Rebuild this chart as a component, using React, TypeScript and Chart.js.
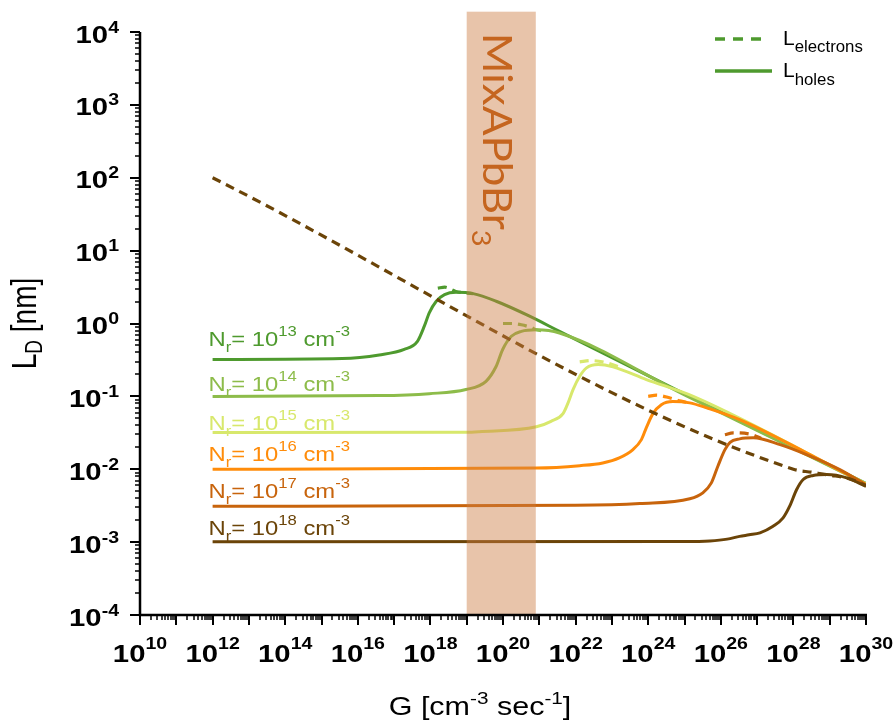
import React, { useEffect, useRef } from 'react';
import { Chart, registerables } from 'chart.js';
Chart.register(...registerables);

// ---------------- data ----------------
const NR_EXPONENTS = ['13', '14', '15', '16', '17', '18'];
const COLORS = ['#4e9a2e', '#8dbc4a', '#d8e86c', '#ff8c0a', '#c8640c', '#6b4408'];

const G_HOLES_13 = [1e12, 3.7e15, 3.9e16, 1.9e17, 4.4e17, 6.8e17, 9.3e17, 1.45e18, 2.45e18, 5.1e18, 1.5e19, 6.5e19, 5.4e20, 3.6e21, 1e25, 1e30];
const L_HOLES_13 = [0.32, 0.33, 0.37, 0.44, 0.57, 0.92, 1.4, 2.02, 2.49, 2.68, 2.57, 2.02, 1.26, 0.78, 0.108, 0.0064];

const G_HOLES_14 = [1e12, 3.9e16, 9.3e17, 9.5e18, 3.4e19, 6.5e19, 9.8e19, 1.7e20, 3.2e20, 8.3e20, 3.6e21, 1e25, 1e30];
const L_HOLES_14 = [0.1, 0.1026, 0.109, 0.124, 0.161, 0.259, 0.44, 0.667, 0.78, 0.82, 0.74, 0.105, 0.0063];

const G_HOLES_15 = [1e12, 9.5e18, 2.2e19, 8.3e20, 2.1e21, 4.5e21, 6.2e21, 8.5e21, 1.3e22, 2.0e22, 4.2e22, 1.07e23, 8.9e23, 1.74e25, 1e30];
const L_HOLES_15 = [0.032, 0.0321, 0.0327, 0.0382, 0.0455, 0.058, 0.0815, 0.124, 0.189, 0.246, 0.273, 0.254, 0.17, 0.1, 0.0063];

const G_HOLES_16 = [1e12, 8.3e20, 1.3e22, 5.6e22, 1.6e23, 3.8e23, 6.5e23, 8.9e23, 1.35e24, 2.3e24, 4.8e24, 1.4e25, 4.1e25, 3.3e26, 2.3e28, 1e30];
const L_HOLES_16 = [0.01, 0.0104, 0.0112, 0.0122, 0.0143, 0.0186, 0.0255, 0.0373, 0.058, 0.077, 0.085, 0.0815, 0.0695, 0.048, 0.0168, 0.0062];

const G_HOLES_17 = [1e12, 1e22, 5.9e23, 1.4e25, 3.2e25, 5.5e25, 8.3e25, 1.3e26, 1.8e26, 3.3e26, 7.8e26, 4.3e27, 2.3e28, 1.9e29, 1e30];
const L_HOLES_17 = [0.0031, 0.0032, 0.00339, 0.00393, 0.00474, 0.0065, 0.011, 0.0186, 0.0234, 0.0261, 0.027, 0.0218, 0.0159, 0.0099, 0.0061];

const G_HOLES_18 = [1e12, 1e25, 5e25, 1.5e26, 3.3e26, 6e26, 1.2e27, 2.75e27, 5.2e27, 7.9e27, 1.23e28, 1.86e28, 3.5e28, 8.3e28, 2.95e29, 1e30];
const L_HOLES_18 = [0.00101, 0.00102, 0.00104, 0.0011, 0.0012, 0.00126, 0.00134, 0.00165, 0.00215, 0.00311, 0.00527, 0.00723, 0.0082, 0.00845, 0.0076, 0.0058];

const G_ELEC_13 = [1.6e18, 2.5e18, 5e18, 1.5e19];
const L_ELEC_13 = [3.05, 3.15, 2.75, 2.57];

const G_ELEC_14 = [1e20, 1.7e20, 3.2e20, 6e20, 8.3e20, 1.5e21];
const L_ELEC_14 = [1.0, 1.0, 0.96, 0.88, 0.82, 0.79];

const G_ELEC_15 = [1.3e22, 2.5e22, 7e22, 1.5e23];
const L_ELEC_15 = [0.297, 0.31, 0.29, 0.255];

const G_ELEC_16 = [1e24, 1.7e24, 4e24, 8e24, 1.4e25];
const L_ELEC_16 = [0.1, 0.104, 0.095, 0.086, 0.0815];

const G_ELEC_17 = [1.3e26, 2.2e26, 7e26, 1.3e27];
const L_ELEC_17 = [0.0297, 0.0316, 0.03, 0.0265];

const G_ELEC_18 = [1e12, 1e28, 3.2e28, 1e29, 3.2e29, 1e30];
const L_ELEC_18 = [100, 0.01, 0.0091, 0.0083, 0.0075, 0.006];

const X_TICK_VALUES = [1e10, 1e12, 1e14, 1e16, 1e18, 1e20, 1e22, 1e24, 1e26, 1e28, 1e30];
const Y_TICK_VALUES = [1e4, 1e3, 1e2, 1e1, 1e0, 1e-1, 1e-2, 1e-3, 1e-4];

const NR_LABEL_G = 1e12;
const NR_LABEL_L = [0.487, 0.1175, 0.0351, 0.0129, 0.00406, 0.00127];

const BAND_G = [1e19, 8e20];
const BAND_L = [1e-4, 1.9e4];

// ---------------- helpers ----------------
const FONT = '"Liberation Sans", Arial, Helvetica, sans-serif';
const SX = 1.22;

type Seg = { t: string; size: number; bold?: boolean; dy?: number; family?: string };

function drawRich(
  ctx: CanvasRenderingContext2D,
  segs: Seg[],
  x: number,
  y: number,
  align: 'left' | 'center' | 'right',
  color: string,
  rot = 0,
  sx = SX,
) {
  ctx.save();
  ctx.fillStyle = color;
  ctx.textBaseline = 'alphabetic';
  ctx.textAlign = 'left';
  const fontOf = (s: Seg) => `${s.bold ? 'bold ' : ''}${s.size}px ${s.family || FONT}`;
  let w = 0;
  const ws: number[] = [];
  for (const s of segs) {
    ctx.font = fontOf(s);
    const m = ctx.measureText(s.t).width;
    ws.push(m);
    w += m;
  }
  ctx.translate(x, y);
  if (rot) {
    ctx.rotate(rot);
    ctx.scale(1, sx);
  } else {
    ctx.scale(sx, 1);
  }
  let cx = align === 'left' ? 0 : align === 'center' ? -w / 2 : -w;
  segs.forEach((s, i) => {
    ctx.font = fontOf(s);
    ctx.fillText(s.t, cx, s.dy || 0);
    cx += ws[i];
  });
  ctx.restore();
}

const expOf = (v: number) => String(Math.round(Math.log10(v)));

const decorPlugin = {
  id: 'decor',
  afterDatasetsDraw(chart: any) {
    const { ctx, scales } = chart;
    const x = scales.x;
    const y = scales.y;
    const x0 = x.getPixelForValue(BAND_G[0]);
    const x1 = x.getPixelForValue(BAND_G[1]);
    const yT = y.getPixelForValue(BAND_L[1]);
    const yB = y.getPixelForValue(BAND_L[0]);
    ctx.save();
    ctx.fillStyle = 'rgba(204,124,66,0.45)';
    ctx.fillRect(x0, yT, x1 - x0, yB - yT);
    ctx.restore();
    // band label, rotated clockwise
    drawRich(
      ctx,
      [
        { t: 'MixAPbBr', size: 44, family: 'Lato, "Open Sans", sans-serif' },
        { t: '3', size: 29, dy: 11, family: 'Lato, "Open Sans", sans-serif' },
      ],
      x0 + 16,
      yT + 21,
      'left',
      '#c5651f',
      Math.PI / 2,
      0.93,
    );
  },
  afterDraw(chart: any) {
    const { ctx, scales, chartArea } = chart;
    const x = scales.x;
    const y = scales.y;
    const { left, right, top, bottom } = chartArea;
    ctx.save();
    ctx.strokeStyle = '#000';
    ctx.lineCap = 'butt';
    // axis lines
    ctx.lineWidth = 2.5;
    ctx.beginPath();
    ctx.moveTo(left, top);
    ctx.lineTo(left, bottom + 1.25);
    ctx.moveTo(left - 1.25, bottom);
    ctx.lineTo(right + 1, bottom);
    ctx.stroke();
    // ticks
    for (let d = -4; d <= 4; d++) {
      for (let k = 1; k <= 9; k++) {
        if (d === 4 && k > 1) break;
        const py = Math.round(y.getPixelForValue(k * Math.pow(10, d)));
        const len = k === 1 ? 10 : 5;
        ctx.lineWidth = k === 1 ? 2 : 1.5;
        ctx.beginPath();
        ctx.moveTo(left, py);
        ctx.lineTo(left - len, py);
        ctx.stroke();
      }
    }
    for (let d = 10; d <= 30; d++) {
      for (let k = 1; k <= 9; k++) {
        if (d === 30 && k > 1) break;
        const px = Math.round(x.getPixelForValue(k * Math.pow(10, d)));
        const len = k === 1 ? 10 : 5;
        ctx.lineWidth = k === 1 ? 2 : 1.5;
        ctx.beginPath();
        ctx.moveTo(px, bottom);
        ctx.lineTo(px, bottom + len);
        ctx.stroke();
      }
    }
    ctx.restore();

    // tick labels
    X_TICK_VALUES.forEach((v) => {
      drawRich(
        ctx,
        [
          { t: '10', size: 24, bold: true },
          { t: expOf(v), size: 16, bold: true, dy: -13 },
        ],
        x.getPixelForValue(v),
        bottom + 47,
        'center',
        '#000',
      );
    });
    Y_TICK_VALUES.forEach((v) => {
      drawRich(
        ctx,
        [
          { t: '10', size: 24, bold: true },
          { t: expOf(v), size: 16, bold: true, dy: -10 },
        ],
        left - 21,
        y.getPixelForValue(v) + 10.5,
        'right',
        '#000',
      );
    });

    // axis titles
    drawRich(
      ctx,
      [
        { t: 'G [cm', size: 25 },
        { t: '-3', size: 17, dy: -11 },
        { t: ' sec', size: 25 },
        { t: '-1', size: 17, dy: -11 },
        { t: ']', size: 25 },
      ],
      left + 340,
      bottom + 100,
      'center',
      '#000',
    );
    drawRich(
      ctx,
      [
        { t: 'L', size: 28 },
        { t: 'D', size: 19, dy: 5 },
        { t: ' [nm]', size: 28 },
      ],
      36,
      (top + bottom) / 2,
      'center',
      '#000',
      -Math.PI / 2,
    );

    // Nr labels
    NR_EXPONENTS.forEach((e, i) => {
      drawRich(
        ctx,
        [
          { t: 'N', size: 20 },
          { t: 'r', size: 14, dy: 6 },
          { t: '= 10', size: 20 },
          { t: e, size: 14, dy: -10 },
          { t: ' cm', size: 20 },
          { t: '-3', size: 14, dy: -10 },
        ],
        x.getPixelForValue(NR_LABEL_G) - 4,
        y.getPixelForValue(NR_LABEL_L[i]),
        'left',
        COLORS[i],
        0,
        1.19,
      );
    });

    // legend
    ctx.save();
    ctx.strokeStyle = COLORS[0];
    ctx.lineWidth = 3.5;
    ctx.setLineDash([10, 8]);
    ctx.beginPath();
    ctx.moveTo(715, 39);
    ctx.lineTo(762, 39);
    ctx.stroke();
    ctx.setLineDash([]);
    ctx.beginPath();
    ctx.moveTo(715, 71);
    ctx.lineTo(772, 71);
    ctx.stroke();
    ctx.restore();
    drawRich(ctx, [{ t: 'L', size: 20 }, { t: 'electrons', size: 16, dy: 7 }], 783, 45, 'left', '#000', 0, 1.05);
    drawRich(ctx, [{ t: 'L', size: 20 }, { t: 'holes', size: 16, dy: 8 }], 783, 77, 'left', '#000', 0, 1.05);
  },
};

function series(g: number[], l: number[]) {
  return g.map((v, i) => ({ x: v, y: l[i] }));
}

export default function App() {
  const ref = useRef<HTMLCanvasElement | null>(null);
  useEffect(() => {
    document.body.style.margin = '0';
    const canvas = ref.current;
    if (!canvas) return;
    const holes = [
      [G_HOLES_13, L_HOLES_13],
      [G_HOLES_14, L_HOLES_14],
      [G_HOLES_15, L_HOLES_15],
      [G_HOLES_16, L_HOLES_16],
      [G_HOLES_17, L_HOLES_17],
      [G_HOLES_18, L_HOLES_18],
    ];
    const elec = [
      [G_ELEC_13, L_ELEC_13],
      [G_ELEC_14, L_ELEC_14],
      [G_ELEC_15, L_ELEC_15],
      [G_ELEC_16, L_ELEC_16],
      [G_ELEC_17, L_ELEC_17],
      [G_ELEC_18, L_ELEC_18],
    ];
    const datasets: any[] = [];
    holes.forEach(([g, l], i) => {
      datasets.push({
        label: `L_holes N_r=1e${NR_EXPONENTS[i]}`,
        data: series(g, l),
        showLine: true,
        borderColor: COLORS[i],
        backgroundColor: COLORS[i],
        borderWidth: 3,
        pointRadius: 0,
        cubicInterpolationMode: 'monotone',
        order: 20 - i,
      });
    });
    elec.forEach(([g, l], i) => {
      datasets.push({
        label: `L_electrons N_r=1e${NR_EXPONENTS[i]}`,
        data: series(g, l),
        showLine: true,
        borderColor: COLORS[i],
        backgroundColor: COLORS[i],
        borderWidth: 3.2,
        borderDash: [9, 6],
        pointRadius: 0,
        cubicInterpolationMode: 'monotone',
        order: 10 - i,
      });
    });
    const chart = new Chart(canvas, {
      type: 'scatter',
      data: { datasets },
      options: {
        responsive: false,
        maintainAspectRatio: false,
        animation: false,
        devicePixelRatio: 1,
        layout: { padding: { left: 140, right: 30, top: 32, bottom: 108 } },
        plugins: { legend: { display: false }, tooltip: { enabled: false } },
        scales: {
          x: { type: 'logarithmic', min: 1e10, max: 1e30, display: false },
          y: { type: 'logarithmic', min: 1e-4, max: 1e4, display: false },
        },
      } as any,
      plugins: [decorPlugin],
    });
    return () => chart.destroy();
  }, []);
  return (
    <div style={{ width: 896, height: 723, background: '#fff' }}>
      <canvas ref={ref} width={896} height={723} style={{ display: 'block' }} />
    </div>
  );
}
